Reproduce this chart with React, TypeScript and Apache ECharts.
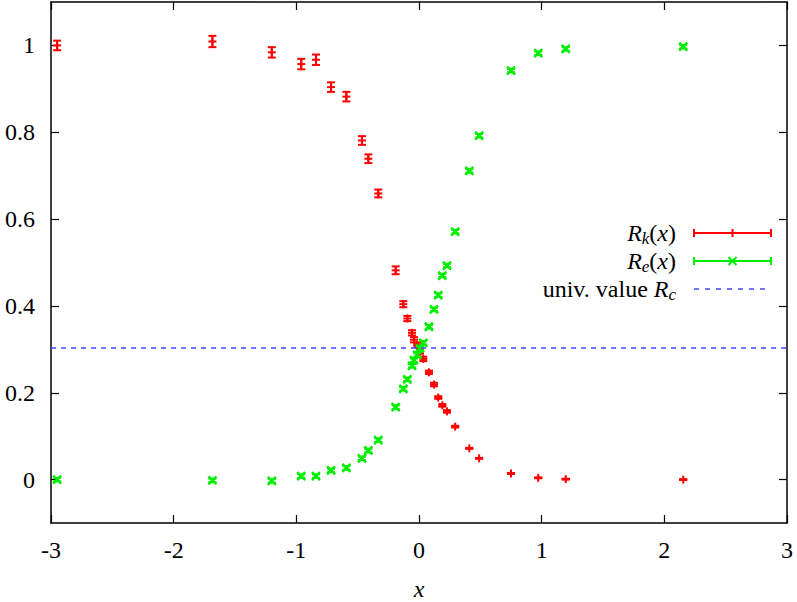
import React, { useEffect, useRef } from "react";
import * as echarts from "echarts";

const xs = [-2.95, -1.684, -1.2, -0.96, -0.84, -0.717, -0.592, -0.465, -0.413, -0.332, -0.19, -0.128, -0.095, -0.057, -0.041, -0.014, 0.008, 0.035, 0.081, 0.122, 0.157, 0.19, 0.228, 0.295, 0.41, 0.49, 0.75, 0.972, 1.196, 2.154];
const rk = [1.0, 1.009, 0.984, 0.957, 0.967, 0.904, 0.882, 0.781, 0.739, 0.659, 0.482, 0.404, 0.371, 0.338, 0.322, 0.31, 0.295, 0.278, 0.247, 0.219, 0.189, 0.171, 0.157, 0.122, 0.072, 0.049, 0.014, 0.004, 0.001, 0.0];
const rkErr = [0.011, 0.013, 0.012, 0.012, 0.012, 0.011, 0.011, 0.01, 0.01, 0.009, 0.009, 0.007, 0.006, 0.006, 0.006, 0.005, 0.005, 0.005, 0.004, 0.004, 0.003, 0.003, 0.003, 0.002, 0.001, 0.001, 0.001, 0.001, 0.001, 0.001];
const re = [0.0, -0.002, -0.003, 0.008, 0.008, 0.021, 0.027, 0.049, 0.067, 0.091, 0.167, 0.209, 0.231, 0.262, 0.275, 0.287, 0.302, 0.315, 0.352, 0.392, 0.425, 0.47, 0.493, 0.571, 0.711, 0.792, 0.942, 0.982, 0.992, 0.997];
const reErr = [0.004, 0.004, 0.004, 0.004, 0.004, 0.004, 0.004, 0.004, 0.004, 0.004, 0.004, 0.004, 0.004, 0.004, 0.004, 0.004, 0.004, 0.004, 0.004, 0.004, 0.004, 0.004, 0.004, 0.004, 0.004, 0.004, 0.004, 0.004, 0.004, 0.004];
const rc = 0.303;
const yTicks = [0, 0.2, 0.4, 0.6, 0.8, 1];
const xRange = [-3, 3];
const yRange = [-0.1, 1.1];

const FONT = "'Liberation Serif', 'Times New Roman', serif";
const RED = "#ff0000";
const GREEN = "#00ee00";
const BLUE = "#4444ff";

function errRender(color: string, marker: "plus" | "cross") {
  return (params: any, api: any) => {
    const x = api.value(0), y = api.value(1), e = api.value(2);
    const c = api.coord([x, y]);
    const t = api.coord([x, y + e]);
    const b = api.coord([x, y - e]);
    const cap = 4;
    const m = 4;
    const style = { stroke: color, lineWidth: 2, fill: "none" };
    const children: any[] = [
      { type: "line", shape: { x1: c[0], y1: t[1], x2: c[0], y2: b[1] }, style },
      { type: "line", shape: { x1: c[0] - cap, y1: t[1], x2: c[0] + cap, y2: t[1] }, style },
      { type: "line", shape: { x1: c[0] - cap, y1: b[1], x2: c[0] + cap, y2: b[1] }, style },
    ];
    if (marker === "plus") {
      children.push({ type: "line", shape: { x1: c[0] - m, y1: c[1], x2: c[0] + m, y2: c[1] }, style });
      children.push({ type: "line", shape: { x1: c[0], y1: c[1] - m, x2: c[0], y2: c[1] + m }, style });
    } else {
      children.push({ type: "line", shape: { x1: c[0] - m, y1: c[1] - m, x2: c[0] + m, y2: c[1] + m }, style: { ...style, lineWidth: 2.5 } });
      children.push({ type: "line", shape: { x1: c[0] - m, y1: c[1] + m, x2: c[0] + m, y2: c[1] - m }, style: { ...style, lineWidth: 2.5 } });
    }
    return { type: "group", children };
  };
}

export default function App() {
  const ref = useRef<HTMLDivElement>(null);
  useEffect(() => {
    const chart = echarts.init(ref.current!, null, { renderer: "svg" });
    const rkData = xs.map((x, i) => [x, rk[i], rkErr[i]]);
    const reData = xs.map((x, i) => [x, re[i], reErr[i]]);
    const axisLine = { show: true, onZero: false, lineStyle: { color: "#000", width: 1.5 } };
    const tickStyle = { color: "#000", width: 1.2 };
    const legX1 = 694, legX2 = 771, legXm = (694 + 771) / 2;
    const legY = [233, 261, 289];
    const rich = {
      i: { fontFamily: FONT, fontSize: 24, fontStyle: "italic", color: "#000", lineHeight: 28 },
      n: { fontFamily: FONT, fontSize: 24, color: "#000", lineHeight: 28 },
      s: { fontFamily: FONT, fontSize: 17, fontStyle: "italic", color: "#000", lineHeight: 20, verticalAlign: "bottom" },
    };
    const ls = (color: string) => ({ stroke: color, lineWidth: 2 });
    const legendGraphics: any[] = [
      { type: "text", x: 676, y: legY[0], style: { text: "{i|R}{s|k}{n|(}{i|x}{n|)}", rich, align: "right", verticalAlign: "middle", fontFamily: FONT } },
      { type: "text", x: 676, y: legY[1], style: { text: "{i|R}{s|e}{n|(}{i|x}{n|)}", rich, align: "right", verticalAlign: "middle", fontFamily: FONT } },
      { type: "text", x: 676, y: legY[2], style: { text: "{n|univ. value }{i|R}{s|c}", rich, align: "right", verticalAlign: "middle", fontFamily: FONT } },
      { type: "line", shape: { x1: legX1, y1: legY[0], x2: legX2, y2: legY[0] }, style: ls(RED) },
      { type: "line", shape: { x1: legX1, y1: legY[0] - 4, x2: legX1, y2: legY[0] + 4 }, style: ls(RED) },
      { type: "line", shape: { x1: legX2, y1: legY[0] - 4, x2: legX2, y2: legY[0] + 4 }, style: ls(RED) },
      { type: "line", shape: { x1: legXm, y1: legY[0] - 4, x2: legXm, y2: legY[0] + 4 }, style: ls(RED) },
      { type: "line", shape: { x1: legX1, y1: legY[1], x2: legX2, y2: legY[1] }, style: ls(GREEN) },
      { type: "line", shape: { x1: legX1, y1: legY[1] - 4, x2: legX1, y2: legY[1] + 4 }, style: ls(GREEN) },
      { type: "line", shape: { x1: legX2, y1: legY[1] - 4, x2: legX2, y2: legY[1] + 4 }, style: ls(GREEN) },
      { type: "line", shape: { x1: legXm - 4, y1: legY[1] - 4, x2: legXm + 4, y2: legY[1] + 4 }, style: ls(GREEN) },
      { type: "line", shape: { x1: legXm - 4, y1: legY[1] + 4, x2: legXm + 4, y2: legY[1] - 4 }, style: ls(GREEN) },
      { type: "line", shape: { x1: legX1, y1: legY[2], x2: legX2, y2: legY[2] }, style: { stroke: BLUE, lineWidth: 1.5, lineDash: [5, 6] } },
    ];
    chart.setOption({
      animation: false,
      backgroundColor: "#fff",
      textStyle: { fontFamily: FONT },
      grid: { left: 51, right: 10, top: 2, bottom: 79, containLabel: false, outerBoundsMode: "none" },
      xAxis: [
        {
          type: "value", min: xRange[0], max: xRange[1], interval: 1, position: "bottom",
          axisLine, splitLine: { show: false },
          axisTick: { show: true, inside: true, length: 8, lineStyle: tickStyle },
          axisLabel: { show: true, margin: 15, color: "#000", fontFamily: FONT, fontSize: 24 },
          name: "x", nameLocation: "middle", nameGap: 66,
          nameTextStyle: { color: "#000", fontFamily: FONT, fontSize: 24, fontStyle: "italic", verticalAlign: "middle", lineHeight: 18 },
        },
        {
          type: "value", min: xRange[0], max: xRange[1], interval: 1, position: "top",
          axisLine, splitLine: { show: false },
          axisTick: { show: true, inside: true, length: 8, lineStyle: tickStyle },
          axisLabel: { show: false },
        },
      ],
      yAxis: [
        {
          type: "value", min: yRange[0], max: yRange[1], position: "left",
          axisLine, splitLine: { show: false },
          axisTick: { show: true, inside: true, length: 8, lineStyle: tickStyle, customValues: yTicks },
          axisLabel: {
            show: true, margin: 16, color: "#000", fontFamily: FONT, fontSize: 24, customValues: yTicks,
            formatter: (v: number) => String(Math.round(v * 10) / 10),
          },
        },
        {
          type: "value", min: yRange[0], max: yRange[1], position: "right",
          axisLine, splitLine: { show: false },
          axisTick: { show: true, inside: true, length: 8, lineStyle: tickStyle, customValues: yTicks },
          axisLabel: { show: false, customValues: yTicks },
        },
      ],
      series: [
        { type: "custom", name: "Rk", xAxisIndex: 0, yAxisIndex: 0, data: rkData, renderItem: errRender(RED, "plus"), z: 3, clip: true },
        { type: "custom", name: "Re", xAxisIndex: 0, yAxisIndex: 0, data: reData, renderItem: errRender(GREEN, "cross"), z: 4, clip: true },
        {
          type: "line", name: "Rc", xAxisIndex: 0, yAxisIndex: 0,
          data: [[xRange[0], rc], [xRange[1], rc]], symbol: "none",
          lineStyle: { color: BLUE, width: 1.5, type: [5, 5] }, z: 5,
        },
      ],
      graphic: legendGraphics,
    });
    return () => chart.dispose();
  }, []);
  return <div ref={ref} style={{ width: 797, height: 602, position: "absolute", left: 0, top: 0 }} />;
}
